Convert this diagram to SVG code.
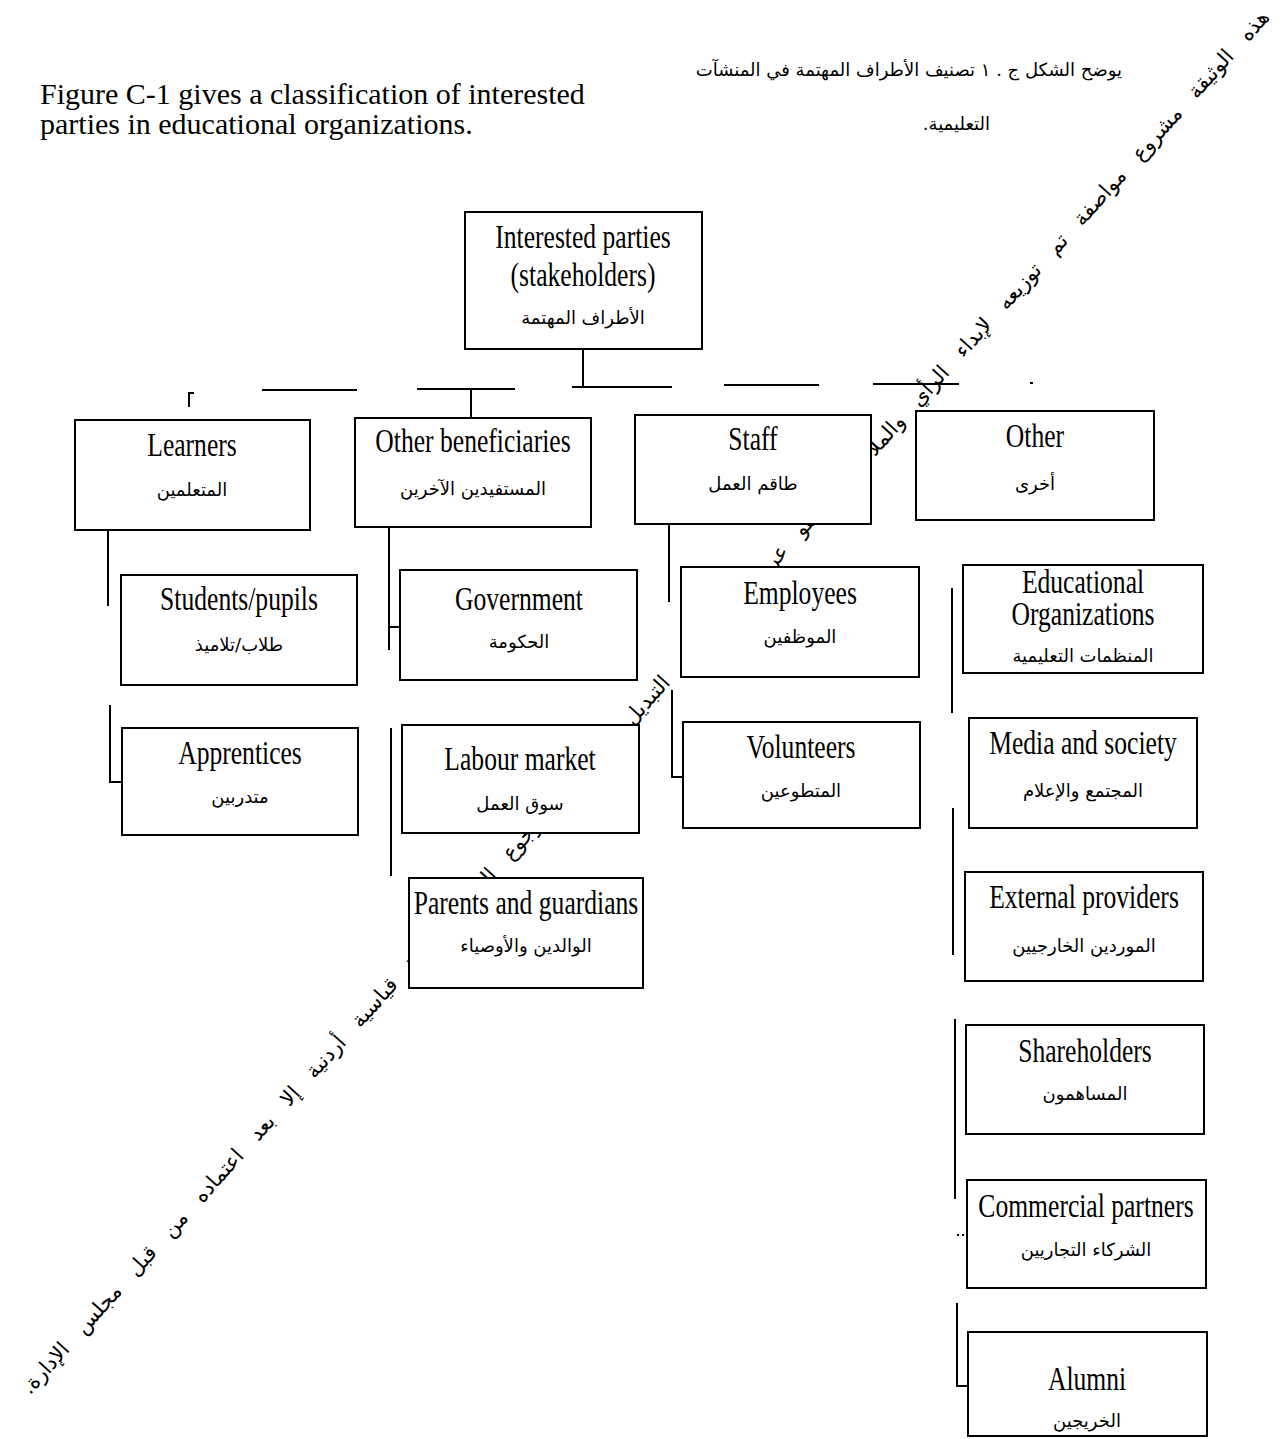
<svg xmlns="http://www.w3.org/2000/svg" width="1286" height="1439" viewBox="0 0 1286 1439">
<style>
.box{fill:#fff;stroke:#000;stroke-width:2}
.en{font-family:'Liberation Serif','Times New Roman',serif;font-size:25.6px;text-anchor:middle;fill:#000}
.ar{font-family:'DejaVu Sans',sans-serif;font-size:18px;text-anchor:middle;fill:#000}
.hd{font-family:'Liberation Serif','Times New Roman',serif;font-size:30px;fill:#000}
.hda{font-family:'DejaVu Sans',sans-serif;font-size:18px;fill:#000}
.wm{font-family:'DejaVu Sans',sans-serif;font-size:21px;fill:#000;word-spacing:13px}
.ln{stroke:#000;stroke-width:2;fill:none}
</style>
<rect width="1286" height="1439" fill="#fff"/>
<g id="intro">
<text class="hd" x="40" y="104">Figure C-1 gives a classification of interested</text>
<text class="hd" x="40" y="134">parties in educational organizations.</text>
<text class="hda" x="1122" y="76" direction="rtl" text-anchor="start">يوضح الشكل ج . ١ تصنيف الأطراف المهتمة في المنشآت</text>
<text class="hda" x="990" y="130" direction="rtl" text-anchor="start">التعليمية.</text>
</g>
<g id="watermark">
<text class="wm" transform="translate(645,702) rotate(-48)" y="7" text-anchor="middle" direction="rtl">هذه الوثيقة مشروع مواصفة تم توزيعه لإبداء الرأي والملاحظات وهو عرضة للتغيير و التبديل ولا يجوز الرجوع إليه كمواصفة قياسية أردنية إلا بعد اعتماده من قبل مجلس الإدارة.</text>
</g>
<g id="connectors">
<path class="ln" d="M583,349V387M262,390H357M417,389H515M572,387H672M724,385H819M873,384H959M1030,383H1033"/>
<path class="ln" d="M189,407V393H194M471,389V418"/>
<path class="ln" d="M108,530V606M110,705V782H122"/>
<path class="ln" d="M389,527V650M389,627H400M391,728V876"/>
<path class="ln" d="M669,524V602M672,690V777H683"/>
<path class="ln" d="M952,588V713M953,808V955M955,1019V1199M957,1303V1386H968"/>
<path class="ln" stroke-dasharray="2 3" d="M957,1235H967"/>
</g>
<g id="root"><rect class="box" x="465" y="212" width="237" height="137"/>
<text class="en" transform="matrix(1 0 0 1.3 583 248)">Interested parties</text>
<text class="en" transform="matrix(1 0 0 1.3 583 286)">(stakeholders)</text>
<text class="ar" x="583" y="324">الأطراف المهتمة</text></g>
<g id="learners"><rect class="box" x="75" y="420" width="235" height="110"/>
<text class="en" transform="matrix(1 0 0 1.3 192 456)">Learners</text>
<text class="ar" x="192" y="496">المتعلمين</text></g>
<g id="other-beneficiaries"><rect class="box" x="355" y="418" width="236" height="109"/>
<text class="en" transform="matrix(1 0 0 1.3 473 452)">Other beneficiaries</text>
<text class="ar" x="473" y="495">المستفيدين الآخرين</text></g>
<g id="staff"><rect class="box" x="635" y="415" width="236" height="109"/>
<text class="en" transform="matrix(1 0 0 1.3 753 450)">Staff</text>
<text class="ar" x="753" y="490">طاقم العمل</text></g>
<g id="other"><rect class="box" x="916" y="411" width="238" height="109"/>
<text class="en" transform="matrix(1 0 0 1.3 1035 447)">Other</text>
<text class="ar" x="1035" y="490">أخرى</text></g>
<g id="students"><rect class="box" x="121" y="575" width="236" height="110"/>
<text class="en" transform="matrix(1 0 0 1.3 239 610)">Students/pupils</text>
<text class="ar" x="239" y="651">طلاب/تلاميذ</text></g>
<g id="government"><rect class="box" x="400" y="570" width="237" height="110"/>
<text class="en" transform="matrix(1 0 0 1.3 519 610)">Government</text>
<text class="ar" x="519" y="648">الحكومة</text></g>
<g id="employees"><rect class="box" x="681" y="567" width="238" height="110"/>
<text class="en" transform="matrix(1 0 0 1.3 800 604)">Employees</text>
<text class="ar" x="800" y="643">الموظفين</text></g>
<g id="educational-organizations"><rect class="box" x="963" y="565" width="240" height="108"/>
<text class="en" transform="matrix(1 0 0 1.3 1083 593)">Educational</text>
<text class="en" transform="matrix(1 0 0 1.3 1083 625)">Organizations</text>
<text class="ar" x="1083" y="662">المنظمات التعليمية</text></g>
<g id="apprentices"><rect class="box" x="122" y="728" width="236" height="107"/>
<text class="en" transform="matrix(1 0 0 1.3 240 764)">Apprentices</text>
<text class="ar" x="240" y="803">متدربين</text></g>
<g id="labour-market"><rect class="box" x="402" y="725" width="237" height="108"/>
<text class="en" transform="matrix(1 0 0 1.3 520 770)">Labour market</text>
<text class="ar" x="520" y="810">سوق العمل</text></g>
<g id="volunteers"><rect class="box" x="683" y="722" width="237" height="106"/>
<text class="en" transform="matrix(1 0 0 1.3 801 758)">Volunteers</text>
<text class="ar" x="801" y="797">المتطوعين</text></g>
<g id="media-society"><rect class="box" x="969" y="718" width="228" height="110"/>
<text class="en" transform="matrix(1 0 0 1.3 1083 754)">Media and society</text>
<text class="ar" x="1083" y="797">المجتمع والإعلام</text></g>
<g id="parents-guardians"><rect class="box" x="409" y="878" width="234" height="110"/>
<text class="en" transform="matrix(1 0 0 1.3 526 914)">Parents and guardians</text>
<text class="ar" x="526" y="952">الوالدين والأوصياء</text></g>
<g id="external-providers"><rect class="box" x="965" y="872" width="238" height="109"/>
<text class="en" transform="matrix(1 0 0 1.3 1084 908)">External providers</text>
<text class="ar" x="1084" y="952">الموردين الخارجيين</text></g>
<g id="shareholders"><rect class="box" x="966" y="1025" width="238" height="109"/>
<text class="en" transform="matrix(1 0 0 1.3 1085 1062)">Shareholders</text>
<text class="ar" x="1085" y="1100">المساهمون</text></g>
<g id="commercial-partners"><rect class="box" x="967" y="1180" width="239" height="108"/>
<text class="en" transform="matrix(1 0 0 1.3 1086 1217)">Commercial partners</text>
<text class="ar" x="1086" y="1256">الشركاء التجاريين</text></g>
<g id="alumni"><rect class="box" x="968" y="1332" width="239" height="104"/>
<text class="en" transform="matrix(1 0 0 1.3 1087 1390)">Alumni</text>
<text class="ar" x="1087" y="1427">الخريجين</text></g>
</svg>
